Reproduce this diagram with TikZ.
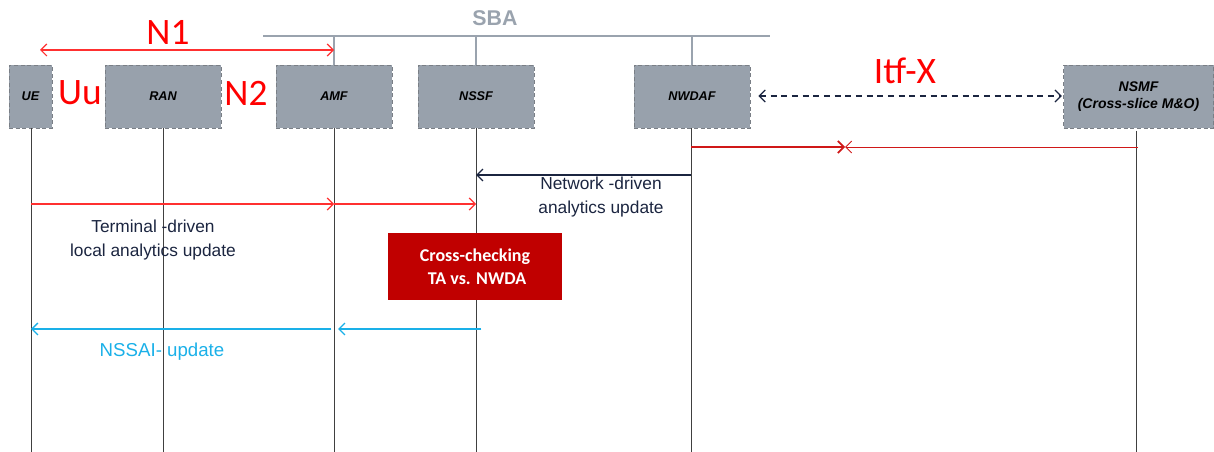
\documentclass[tikz,border=0pt]{standalone}
\usepackage{fontspec}
\setmainfont{Liberation Sans}
\newfontfamily\calfont{Carlito}
\usetikzlibrary{arrows.meta}
\definecolor{boxgray}{HTML}{98A1AC}
\definecolor{boxedge}{HTML}{7A7F86}
\definecolor{sbagray}{HTML}{9AA3AE}
\definecolor{lblred}{HTML}{FF0000}
\definecolor{msgred}{HTML}{FF3030}
\definecolor{darkred}{HTML}{D01818}
\definecolor{navy}{HTML}{1B2540}
\definecolor{cyanmsg}{HTML}{1AB0E8}
\definecolor{ccred}{HTML}{C00000}
\begin{document}
\begin{tikzpicture}[x=0.75pt,y=-0.75pt,
  nf/.style={draw=boxedge, densely dashed, line width=0.6pt, fill=boxgray,
    minimum height=63*0.75pt, inner sep=0pt, align=center,
    font=\fontsize{9.5pt}{11.5pt}\selectfont\bfseries\itshape},
  life/.style={draw=black!75, line width=0.6pt},
  tipb/.style={-{Straight Barb[length=4.5pt,width=9pt]}},
  redlbl/.style={text=lblred, font=\calfont\fontsize{28pt}{32pt}\selectfont, inner sep=0pt},
  msgtxt/.style={text=navy, align=center, font=\fontsize{13pt}{18pt}\selectfont, inner sep=0pt}]
\useasboundingbox (0,0) rectangle (1214,452);

% SBA bus
\node[text=sbagray, font=\bfseries\fontsize{16pt}{18pt}\selectfont, inner sep=0pt] (sba) at (495,18) {SBA};
\coordinate (busL) at (263,36);
\coordinate (busR) at (770,36);
\draw[sbagray, line width=2.2pt] (busL) -- (busR);

% network functions
\node[nf, minimum width=43*0.75pt] (ue) at (30.5,96.5) {UE};
\node[nf, minimum width=116*0.75pt] (ran) at (163,96.5) {RAN};
\node[nf, minimum width=116*0.75pt] (amf) at (334,96.5) {AMF};
\node[nf, minimum width=116*0.75pt] (nssf) at (476,96.5) {NSSF};
\node[nf, minimum width=116*0.75pt] (nwdaf) at (692,96.5) {NWDAF};
\node[nf, minimum width=150*0.75pt, font=\fontsize{10.5pt}{13pt}\selectfont\bfseries\itshape] (nsmf) at (1138.5,96.5) {NSMF\\(Cross-slice M\&O)};

% bus stubs
\draw[sbagray, line width=1.5pt] (amf.north) -- (amf.north |- busL);
\draw[sbagray, line width=1.5pt] (nssf.north) -- (nssf.north |- busL);
\draw[sbagray, line width=1.5pt] (nwdaf.north) -- (nwdaf.north |- busL);

% lifelines
\coordinate (ueEnd) at (31,452);
\coordinate (ranEnd) at (163,452);
\coordinate (amfEnd) at (334,452);
\coordinate (nssfEnd) at (476,452);
\coordinate (nwdafEnd) at (691,452);
\coordinate (nsmfTop) at (1136,131);
\coordinate (nsmfEnd) at (1136,452);
\draw[life] (ueEnd |- ue.south) -- (ueEnd);
\draw[life] (ranEnd |- ran.south) -- (ranEnd);
\draw[life] (amfEnd |- amf.south) -- (amfEnd);
\draw[life] (nssfEnd |- nssf.south) -- (nssfEnd);
\draw[life] (nwdafEnd |- nwdaf.south) -- (nwdafEnd);
\draw[life] (nsmfTop) -- (nsmfEnd);

% interface labels
\node[redlbl] (n1) at (168,32) {N1};
\node[redlbl] (uu) at (80,93) {Uu};
\node[redlbl] (n2) at (246,93) {N2};
\node[redlbl] (itfx) at (905,71) {Itf-X};

% N1 arrow
\coordinate (n1L) at (40,50);
\draw[msgred, line width=0.9pt, {Straight Barb[length=4.5pt,width=9pt]}-{Straight Barb[length=4.5pt,width=9pt]}] (n1L) -- (amfEnd |- n1L);

% Itf-X dashed arrow
\draw[navy, line width=0.9pt, dash pattern=on 4.5pt off 3.5pt,
  {Straight Barb[length=4.5pt,width=9pt]}-{Straight Barb[length=4.5pt,width=9pt]}]
  (nwdaf.east |- 0,96) ++(8,0) -- ([xshift=-1pt]nsmf.west |- 0,96);

% NWDAF <-> NSMF blocked
\coordinate (xm) at (845,147);
\draw[darkred, line width=1.3pt, tipb] (nwdafEnd |- xm) -- (xm);
\draw[darkred, line width=0.7pt, tipb] (1138,147) -- (xm);

% network-driven analytics update
\draw[navy, line width=1pt, tipb] (nwdafEnd |- 0,175) -- (nssfEnd |- 0,175);
\node[msgtxt] (netdrv) at (601,197) {Network -driven\\analytics update};

% terminal-driven local analytics update
\draw[msgred, line width=0.9pt, tipb] (ueEnd |- 0,204) -- (amfEnd |- 0,204);
\draw[msgred, line width=0.9pt, tipb] (amfEnd |- 0,204) -- (nssfEnd |- 0,204);
\node[msgtxt] (termdrv) at (153,240) {Terminal -driven\\local analytics update};

% cross-checking
\node[fill=ccred, minimum width=174*0.75pt, minimum height=67*0.75pt, inner sep=0pt,
  text=white, align=center, font=\calfont\bfseries\fontsize{13.5pt}{17pt}\selectfont] (cc) at (475,266.5)
  {Cross-checking\\\ TA vs. NWDA};

% NSSAI update
\draw[cyanmsg, line width=1pt, tipb, shorten >=3pt] ([xshift=4pt]nssfEnd |- 0,329) -- (amfEnd |- 0,329);
\draw[cyanmsg, line width=1pt, tipb] ([xshift=-2pt]amfEnd |- 0,329) -- (ueEnd |- 0,329);
\node[text=cyanmsg, font=\fontsize{14pt}{16pt}\selectfont, inner sep=0pt] (nssai) at (162,352) {NSSAI- update};
\end{tikzpicture}
\end{document}
